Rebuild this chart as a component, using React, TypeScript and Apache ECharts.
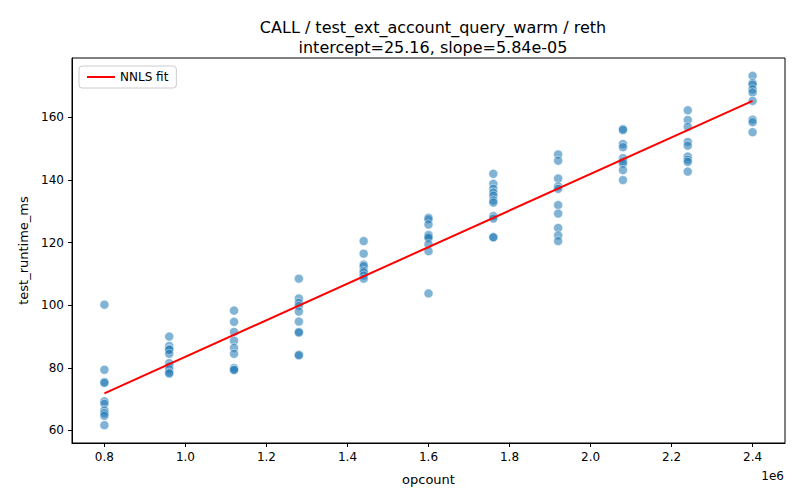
import { useEffect, useRef } from 'react';
import * as echarts from 'echarts';

const opcounts = [800000, 960000, 1120000, 1280000, 1440000, 1600000, 1760000, 1920000, 2080000, 2240000, 2400000];
const runtimes: number[][] = [
  [100.2, 79.4, 75.5, 75.2, 69.3, 68.5, 66.4, 65.5, 64.7, 61.7],
  [90, 87, 86, 85.8, 84.5, 81.5, 80.5, 79.5, 78.5, 78.2],
  [98.3, 94.7, 91.5, 88.7, 86.4, 84.5, 80, 79.5, 79.3],
  [108.5, 102.2, 100.8, 99.8, 98, 94.8, 91.5, 91.3, 84.2, 84],
  [120.5, 116.5, 113, 112.5, 111, 110.5, 109.5, 108.5],
  [128, 127.5, 125.8, 122.5, 122, 121.5, 119.5, 117.3, 103.8],
  [142, 138.8, 137.2, 136, 135, 133.5, 132.8, 128.5, 127.7, 121.8, 121.7],
  [148.2, 146.2, 140.5, 138, 137.2, 132, 129.3, 124.7, 122.3, 120.5],
  [156.3, 156, 151.5, 150.5, 147, 146, 145.3, 143.2, 140],
  [162.3, 159.2, 157, 152.2, 151, 147.5, 146.5, 145.8, 142.7],
  [173.3, 171, 170.5, 169, 168, 165.3, 159.3, 158.5, 155.3],
];
const xTicks = [800000, 1000000, 1200000, 1400000, 1600000, 1800000, 2000000, 2200000, 2400000];
const yTicks = [60, 80, 100, 120, 140, 160];
const intercept = 25.16;
const slope = 5.84e-5;
const fitX = [800000, 2400000];

const font = 'DejaVu Sans';

export default function App() {
  const ref = useRef<HTMLDivElement>(null);

  useEffect(() => {
    if (!ref.current) return;
    const chart = echarts.init(ref.current, null, { renderer: 'svg' });
    const points: number[][] = [];
    opcounts.forEach((x, i) => runtimes[i].forEach((y) => points.push([x, y])));

    chart.setOption({
      animation: false,
      title: {
        text: 'CALL / test_ext_account_query_warm / reth\nintercept=25.16, slope=5.84e-05',
        left: 420, top: 4, textAlign: 'center',
        textStyle: { fontFamily: font, fontSize: 16, fontWeight: 'normal', color: '#000', lineHeight: 20 },
      },
      grid: { left: 64, right: 7, top: 50, bottom: 49 },
      xAxis: {
        type: 'value', min: 720000, max: 2480000,
        name: 'opcount', nameLocation: 'middle', nameGap: 30,
        nameTextStyle: { fontFamily: font, fontSize: 13, color: '#000' },
        axisLine: { lineStyle: { color: '#000' } },
        axisTick: { lineStyle: { color: '#000' }, length: 4, customValues: xTicks },
        axisLabel: {
          fontFamily: font, fontSize: 12, color: '#000', customValues: xTicks,
          formatter: (v: number) => (v / 1e6).toFixed(1),
        },
        splitLine: { show: false },
      },
      yAxis: {
        type: 'value', min: 56, max: 179,
        name: 'test_runtime_ms', nameLocation: 'middle', nameGap: 40,
        nameTextStyle: { fontFamily: font, fontSize: 13, color: '#000' },
        axisLine: { show: true, lineStyle: { color: '#000' } },
        axisTick: { show: true, lineStyle: { color: '#000' }, length: 4, customValues: yTicks },
        axisLabel: { fontFamily: font, fontSize: 12, color: '#000', customValues: yTicks },
        splitLine: { show: false },
      },
      legend: {
        left: 71, top: 58, orient: 'vertical',
        backgroundColor: '#fff', borderColor: '#ccc', borderWidth: 1, borderRadius: 3,
        padding: [5, 8], itemWidth: 28, itemHeight: 2,
        textStyle: { fontFamily: font, fontSize: 12, color: '#000' },
        data: [{ name: 'NNLS fit', icon: 'rect' }],
      },
      graphic: [
        { type: 'rect', shape: { x: 64, y: 50, width: 713, height: 385 }, style: { fill: 'none', stroke: '#000', lineWidth: 1 }, silent: true },
        { type: 'text', right: 8, top: 462, style: { text: '1e6', fontFamily: font, fontSize: 12, fill: '#000' } },
      ],
      series: [
        {
          type: 'scatter', data: points, symbolSize: 9,
          itemStyle: { color: 'rgba(31,119,180,0.7)', borderColor: '#fff', borderWidth: 0.6 },
        },
        {
          name: 'NNLS fit', type: 'line', symbol: 'none',
          data: fitX.map((x) => [x, intercept + slope * x]),
          lineStyle: { color: '#ff0000', width: 2 }, itemStyle: { color: '#ff0000' },
        },
      ],
    });
    return () => chart.dispose();
  }, []);

  return <div ref={ref} style={{ width: 784, height: 484 }} />;
}
